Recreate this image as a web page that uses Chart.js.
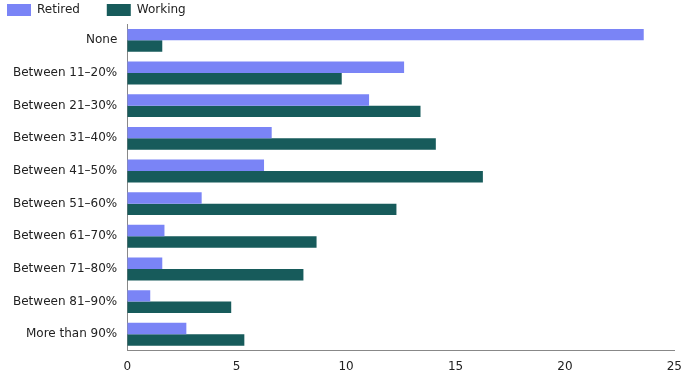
<!DOCTYPE html>
<html>
<head>
<meta charset="utf-8">
<script src="https://cdn.jsdelivr.net/npm/chart.js@4/dist/chart.umd.min.js"></script>
<style>
  html, body { margin: 0; padding: 0; background: #fff; }
  #wrap { width: 691px; height: 376px; }
</style>
</head>
<body>
<div id="wrap"><canvas id="shareChart"></canvas></div>
<script>
const categories = ['None', 'Between 11–20%', 'Between 21–30%', 'Between 31–40%', 'Between 41–50%',
  'Between 51–60%', 'Between 61–70%', 'Between 71–80%', 'Between 81–90%', 'More than 90%'];
const retired = [23.6, 12.65, 11.05, 6.6, 6.25, 3.4, 1.7, 1.6, 1.05, 2.7];
const working = [1.6, 9.8, 13.4, 14.1, 16.25, 12.3, 8.65, 8.05, 4.75, 5.35];
const xTicks = [0, 5, 10, 15, 20, 25];

Chart.defaults.font.family = "'DejaVu Sans', Verdana, sans-serif";
Chart.defaults.font.size = 12;
Chart.defaults.color = '#222';

// pull the plot a little closer to the legend
const tightLegend = {
    id: 'tightLegend',
    beforeInit(chart) {
        const fit = chart.legend.fit;
        chart.legend.fit = function () {
            fit.bind(chart.legend)();
            this.height -= 2;
        };
    }
};

const ctx = document.getElementById('shareChart').getContext('2d');
new Chart(ctx, {
    type: 'bar',
    data: {
        labels: categories,
        datasets: [{
            label: 'Retired',
            data: retired,
            backgroundColor: '#7a84f6'
        }, {
            label: 'Working',
            data: working,
            backgroundColor: '#175b5b'
        }]
    },
    options: {
        indexAxis: 'y',
        responsive: true,
        maintainAspectRatio: false,
        animation: false,
        categoryPercentage: 0.7,
        barPercentage: 1.0,
        layout: { padding: { left: 3, right: 10, top: 0, bottom: -7 } },
        scales: {
            x: {
                min: 0, max: 25,
                afterBuildTicks: axis => { axis.ticks = xTicks.map(v => ({ value: v })); },
                grid: { display: false, drawTicks: false },
                border: { color: '#888', width: 1 },
                ticks: { padding: 9, color: '#222' }
            },
            y: {
                grid: { display: false, drawTicks: false },
                border: { color: '#888', width: 1 },
                ticks: { padding: 10, color: '#222' }
            }
        },
        plugins: {
            legend: {
                position: 'top',
                align: 'start',
                labels: {
                    boxWidth: 24,
                    boxHeight: 12,
                    padding: 4,
                    color: '#222',
                    generateLabels: chart => {
                        const items = Chart.defaults.plugins.legend.labels.generateLabels(chart);
                        items.forEach((it, i) => { if (i < items.length - 1) it.text = it.text + '      '; });
                        return items;
                    }
                }
            },
            tooltip: { enabled: false }
        }
    },
    plugins: [tightLegend]
});
</script>
</body>
</html>
